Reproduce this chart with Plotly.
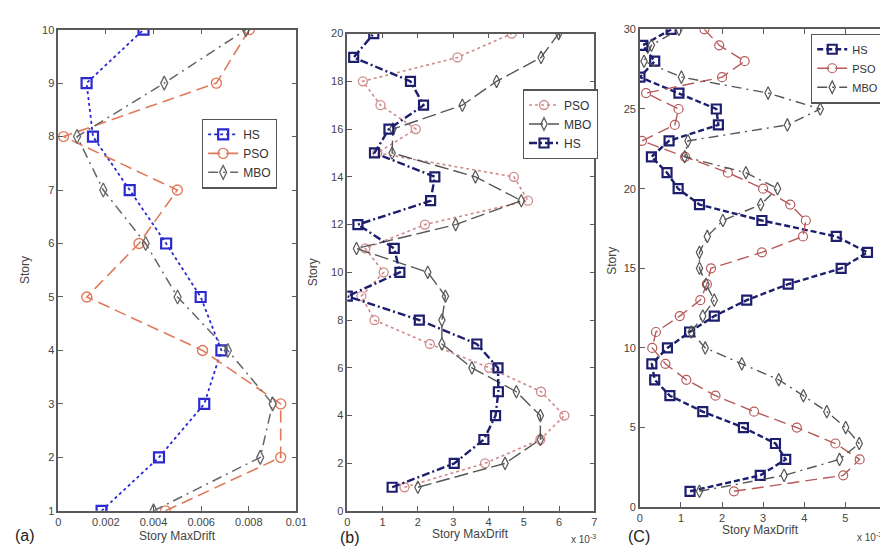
import plotly.graph_objects as go

# ---------------- data ----------------
stories_a = [1, 2, 3, 4, 5, 6, 7, 8, 9, 10]
hs_a  = [0.00182, 0.00423, 0.00613, 0.00685, 0.00598, 0.00453, 0.00300, 0.00146, 0.00119, 0.00358]
pso_a = [0.00450, 0.00934, 0.00934, 0.00606, 0.00120, 0.00339, 0.00500, 0.00022, 0.00664, 0.00802]
mbo_a = [0.00400, 0.00848, 0.00900, 0.00712, 0.00501, 0.00367, 0.00189, 0.00079, 0.00445, 0.00788]

stories_b = list(range(1, 21))
hs_b  = [1.27, 3.03, 3.87, 4.20, 4.28, 4.27, 3.67, 2.04, 0.00, 1.49,
         1.33, 0.30, 2.36, 2.48, 0.77, 1.18, 2.16, 1.79, 0.18, 0.75]
pso_b = [1.62, 3.90, 5.47, 6.15, 5.49, 4.02, 2.34, 0.77, 0.40, 1.03,
         0.51, 2.20, 5.12, 4.72, 0.85, 1.94, 0.94, 0.44, 3.12, 4.66]
mbo_b = [2.00, 4.47, 5.47, 5.47, 4.79, 3.53, 2.68, 2.68, 2.78, 2.28,
         0.26, 3.07, 4.93, 3.63, 1.27, 1.29, 3.26, 4.23, 5.49, 5.99]

stories_c = list(range(1, 31))
hs_c  = [1.22, 2.93, 3.55, 3.30, 2.52, 1.53, 0.73, 0.36, 0.29, 0.67,
         1.21, 1.81, 2.60, 3.61, 4.90, 5.54, 4.78, 2.97, 1.45, 0.93,
         0.66, 0.28, 0.71, 1.91, 1.86, 0.95, 0.00, 0.36, 0.07, 0.76]
pso_c = [2.29, 4.95, 5.35, 4.76, 3.82, 2.78, 1.84, 1.13, 0.62, 0.30,
         0.39, 0.97, 1.47, 1.63, 1.73, 2.97, 3.97, 4.04, 3.66, 3.00,
         2.14, 1.10, 0.05, 0.85, 0.94, 0.15, 2.00, 2.55, 1.93, 1.57]
mbo_c = [1.45, 3.51, 4.86, 5.34, 5.01, 4.55, 3.98, 3.38, 2.48, 1.59,
         1.25, 1.53, 1.81, 1.61, 1.45, 1.45, 1.64, 2.02, 2.94, 3.35,
         2.58, 1.09, 1.17, 3.59, 4.39, 3.12, 1.01, 0.10, 0.28, 0.95]

# ---------------- styling ----------------
FONT = "Liberation Sans, Arial, sans-serif"
AXC = "#5a5a5a"
TXT = "#444444"

fig = go.Figure()

def add(x, y, name, color, dash, symbol, width, msize, mwidth, ax, legend, order):
    fig.add_trace(go.Scatter(
        x=x, y=y, name=name, mode="lines+markers",
        line=dict(color=color, dash=dash, width=width),
        marker=dict(symbol=symbol, size=msize, color=color,
                    line=dict(color=color, width=mwidth)),
        xaxis="x" + ("" if ax == 1 else str(ax)),
        yaxis="y" + ("" if ax == 1 else str(ax)),
        legend=legend, legendrank=order))

# panel (a)
add(hs_a, stories_a, "HS", "#2a2ad0", "dot", "square-open", 1.8, 10, 2.2, 1, "legend", 1)
add(pso_a, stories_a, "PSO", "#e07a5a", "12px,6px", "circle-open", 1.6, 10, 1.4, 1, "legend", 2)
add(mbo_a, stories_a, "MBO", "#666666", "10px,5px,2px,5px", "diamond-tall-open", 1.5, 10, 1.3, 1, "legend", 3)

# panel (b)
add(pso_b, stories_b, "PSO", "#d08a8a", "dot", "circle-open", 1.6, 9, 1.3, 2, "legend2", 1)
add(mbo_b, stories_b, "MBO", "#555555", "14px,5px", "diamond-tall-open", 1.4, 9, 1.2, 2, "legend2", 2)
add(hs_b, stories_b, "HS", "#1e1e6e", "8px,3px,2px,3px", "square-open", 2.4, 9, 2.2, 2, "legend2", 3)

# panel (c)
add(hs_c, stories_c, "HS", "#1e1e6e", "6px,3px", "square-open", 2.4, 9, 2.2, 3, "legend3", 1)
add(pso_c, stories_c, "PSO", "#b85a5a", "12px,6px", "circle-open", 1.4, 9, 1.2, 3, "legend3", 2)
add(mbo_c, stories_c, "MBO", "#555555", "10px,5px,2px,5px", "diamond-tall-open", 1.4, 9, 1.2, 3, "legend3", 3)

def xax(domain, rng, tickvals, ticktext, anchor):
    return dict(domain=domain, range=rng, tickvals=tickvals, ticktext=ticktext,
                showline=True, linecolor=AXC, linewidth=1.5, mirror="ticks",
                ticks="inside", ticklen=5, tickcolor=AXC, showgrid=False,
                zeroline=False, anchor=anchor,
                tickfont=dict(family=FONT, size=11, color=TXT))

def yax(domain, rng, tickvals, anchor):
    return dict(domain=domain, range=rng, tickvals=tickvals,
                showline=True, linecolor=AXC, linewidth=1.5, mirror="ticks",
                ticks="inside", ticklen=5, tickcolor=AXC, showgrid=False,
                zeroline=False, anchor=anchor,
                tickfont=dict(family=FONT, size=11, color=TXT))

W, H = 888, 546

def dx(a, b):
    return [a / W, min(b / W, 1.0)]

def dy(top, bottom):
    return [1 - bottom / H, 1 - top / H]

xa_ticks = [0, 0.002, 0.004, 0.006, 0.008, 0.01]
xa_text = ["0", "0.002", "0.004", "0.006", "0.008", "0.01"]
xb_ticks = [0, 1, 2, 3, 4, 5, 6, 7]
xc_ticks = [0, 1, 2, 3, 4, 5, 6]

def leg(x0, y0, anchor="left", size=12):
    return dict(x=x0 / W, y=1 - y0 / H, xanchor=anchor, yanchor="top",
                bgcolor="white", bordercolor="#555555", borderwidth=1.2,
                font=dict(family=FONT, size=size, color="#333333"),
                itemwidth=30, tracegroupgap=0)

fig.update_layout(
    width=W, height=H, margin=dict(l=0, r=0, t=0, b=0),
    paper_bgcolor="white", plot_bgcolor="white",
    xaxis=xax(dx(48, 290), [0, 0.01], xa_ticks, xa_text, "y"),
    yaxis=yax(dy(16, 508), [1, 10], list(range(1, 11)), "x"),
    xaxis2=xax(dx(341.7, 592.7), [0, 7], xb_ticks, [str(v) for v in xb_ticks], "y2"),
    yaxis2=yax(dy(20, 508.3), [0, 20], list(range(0, 21, 2)), "x2"),
    xaxis3=xax(dx(639, 888), [0, 5.967], xc_ticks, [str(v) for v in xc_ticks], "y3"),
    yaxis3=yax(dy(15.7, 504.3), [0, 30], list(range(0, 31, 5)), "x3"),
    legend=leg(194, 107),
    legend2=leg(520, 77),
    legend3=leg(887, 20, anchor="right", size=11),
    showlegend=True,
)

ann = []
def text(x, y, s, size=12, angle=0, color=TXT, xanchor="center"):
    ann.append(dict(x=x / W, y=1 - y / H, xref="paper", yref="paper", text=s,
                    showarrow=False, textangle=angle, xanchor=xanchor, yanchor="middle",
                    font=dict(family=FONT, size=size, color=color)))

text(169, 534, "Story MaxDrift", 12)
text(467, 532, "Story MaxDrift", 12)
text(762, 528, "Story MaxDrift", 12)
text(14, 262, "Story", 12, -90)
text(307, 264, "Story", 12, -90)
text(611, 252, "Story", 12, -90)
text(14, 533, "(a)", 16, color="#222222")
text(344, 535, "(b)", 16, color="#222222")
text(638, 534, "(C)", 16, color="#222222")
text(582, 537, "x 10<sup>-3</sup>", 10)
text(887, 535, "x 10<sup>-3</sup>", 10, xanchor="right")
fig.update_layout(annotations=ann)

fig.write_html("out.html")
